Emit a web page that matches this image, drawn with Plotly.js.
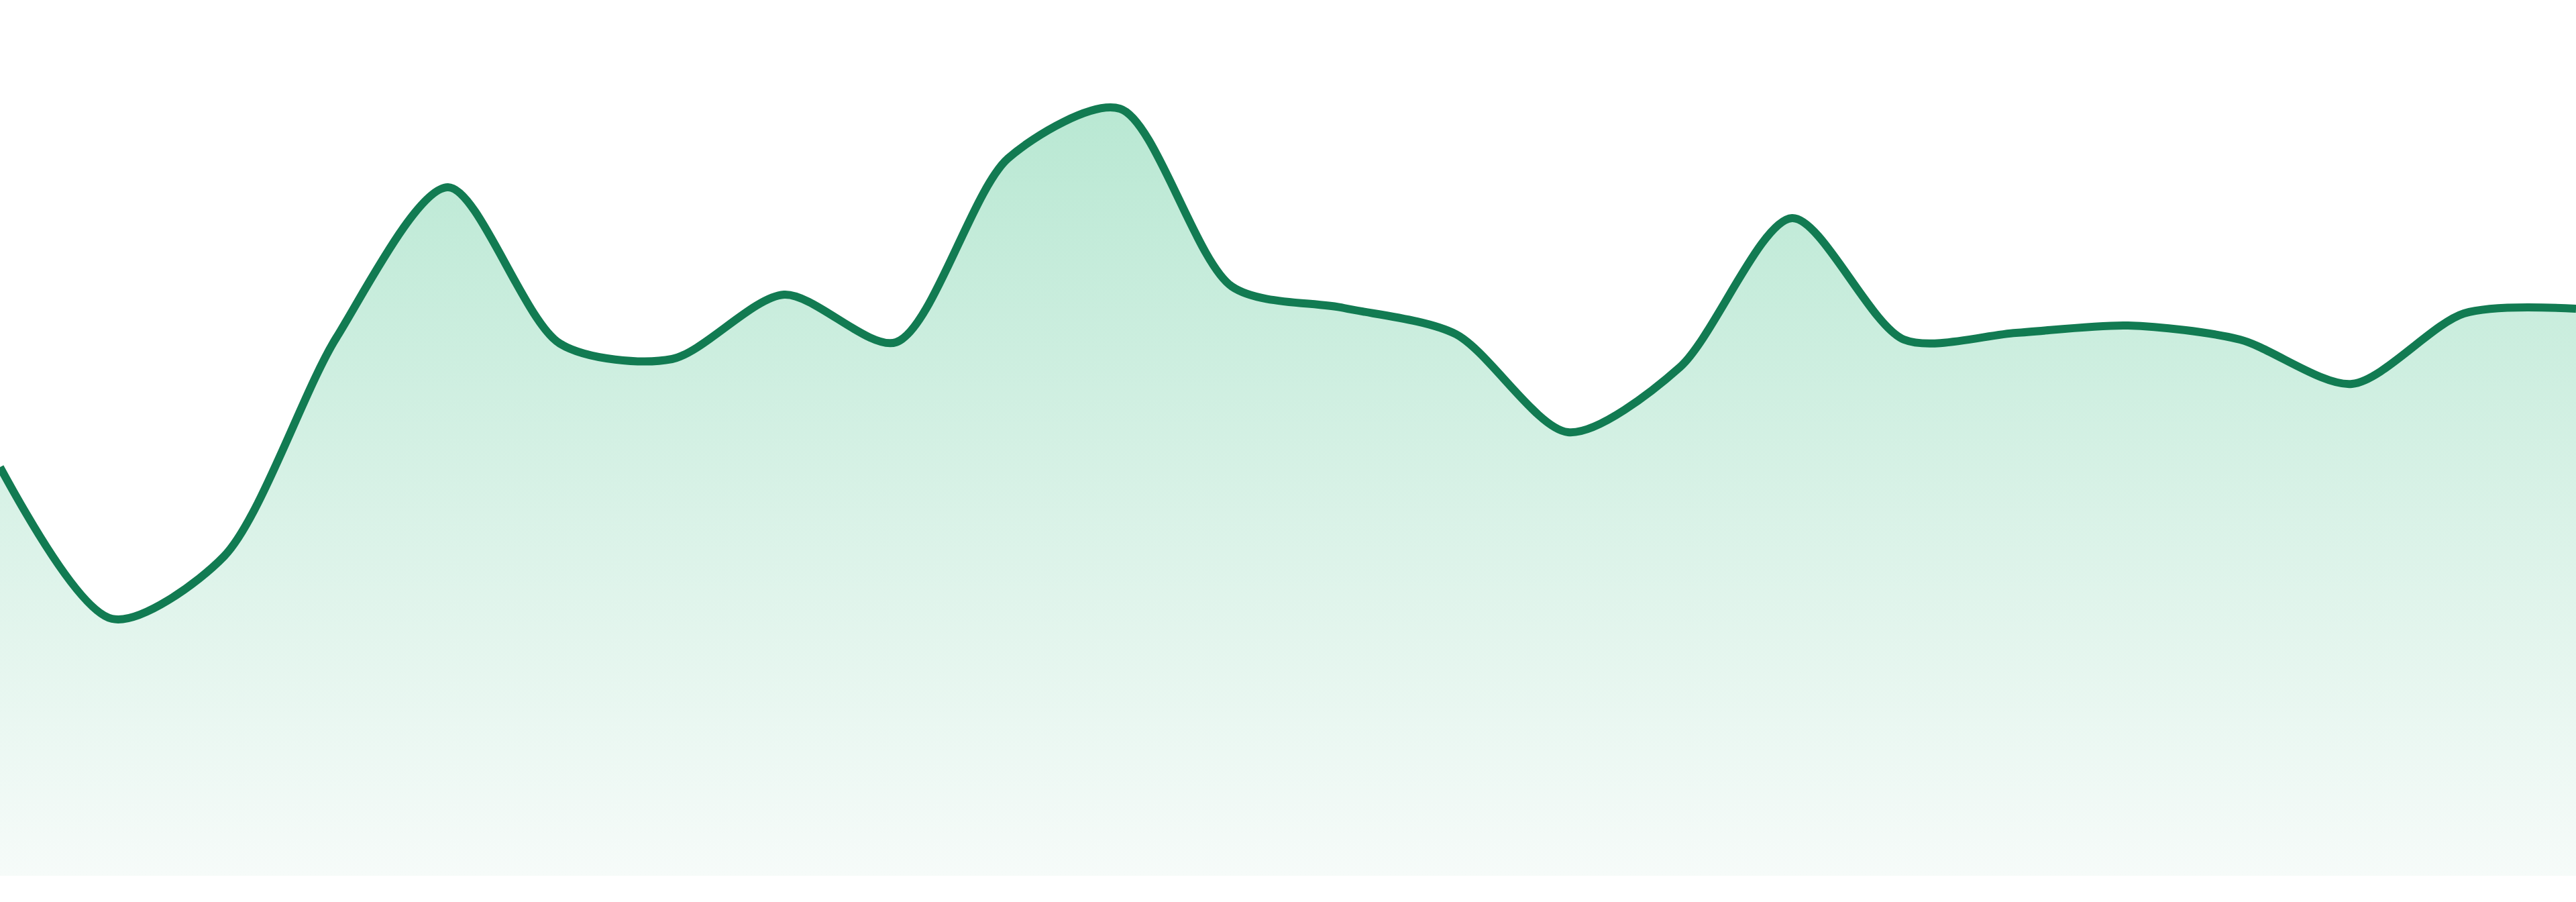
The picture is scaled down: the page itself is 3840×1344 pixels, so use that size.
<!DOCTYPE html>
<html>
<head>
<meta charset="utf-8">
<script src="https://cdn.plot.ly/plotly-3.0.1.min.js"></script>
<style>
  html, body { margin: 0; padding: 0; background: #ffffff; }
  #chart { width: 3840px; height: 1344px; }
</style>
</head>
<body>
<div id="chart"></div>
<script>
// Data (24 evenly spaced points)
const points = [0, 1, 2, 3, 4, 5, 6, 7, 8, 9, 10, 11, 12, 13, 14, 15, 16, 17, 18, 19, 20, 21, 22, 23];
const values = [60.9, 38.3, 47.6, 80.1, 102.6, 79.3, 77.0, 86.6, 79.5, 106.9, 114.3, 87.8,
                84.6, 80.7, 66.1, 75.8, 98.0, 79.9, 80.9, 82.0, 79.9, 73.3, 83.8, 84.5];

const trace = {
  x: points,
  y: values,
  type: 'scatter',
  mode: 'lines',
  line: { color: '#127b52', width: 12, shape: 'spline', smoothing: 0.8 },
  fill: 'tozeroy',
  fillgradient: {
    type: 'vertical',
    start: 0,
    stop: 114.3,
    colorscale: [[0, '#f6fbf9'], [1, '#b9e8d3']]
  },
  hoverinfo: 'skip'
};

const layout = {
  width: 3840,
  height: 1344,
  margin: { l: 0, r: 0, t: 0, b: 39, pad: 0 },
  paper_bgcolor: '#ffffff',
  plot_bgcolor: '#ffffff',
  showlegend: false,
  xaxis: { range: [0, 23], visible: false, showgrid: false, zeroline: false, fixedrange: true },
  yaxis: { range: [0, 130.5], visible: false, showgrid: false, zeroline: false, fixedrange: true }
};

Plotly.newPlot('chart', [trace], layout, { displayModeBar: false, staticPlot: true });
</script>
</body>
</html>
